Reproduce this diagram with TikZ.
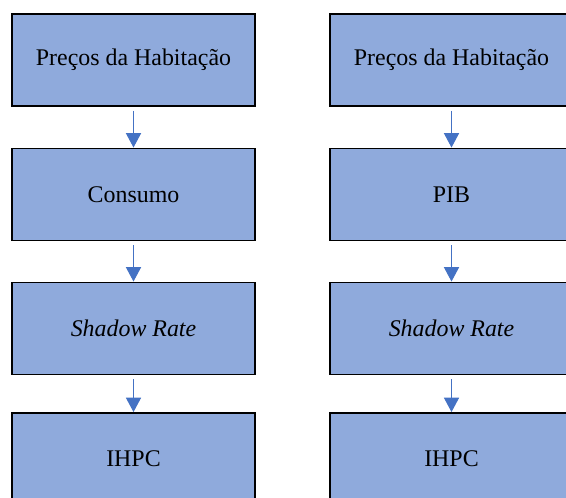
\documentclass[tikz,border=0pt]{standalone}
\usepackage{fontspec}
\setmainfont{Liberation Serif}
\usetikzlibrary{arrows.meta, positioning, calc}

\begin{document}
\begin{tikzpicture}[
    every node/.style={font=\fontsize{17}{20}\selectfont},
    stagebox/.style={rectangle, draw=black, line width=1.4pt, fill=boxblue,
      minimum width=\boxw, minimum height=\boxh, inner sep=0pt},
    flow/.style={-{Triangle[length=0.36cm, width=0.38cm]}, line width=0.7pt,
      draw=arrowblue, fill=arrowblue, shorten <=0.1cm},
  ]
  \def\boxw{6.075cm}
  \def\boxh{2.30cm}

  \definecolor{boxblue}{HTML}{8FAADC}
  \definecolor{arrowblue}{HTML}{4472C4}

  \useasboundingbox (0,0) rectangle (14.15,-12.45);

  \foreach \col/\x/\second in {l/3.3375/Consumo, r/11.2875/PIB}{
    \node[stagebox] (\col1) at (\x,-1.5) {Preços da Habitação};
    \node[stagebox] (\col2) at (\x,-4.8625) {\second};
    \node[stagebox] (\col3) at (\x,-8.2125) {\textit{Shadow Rate}};
    \node[stagebox] (\col4) at (\x,-11.475) {IHPC};
    \foreach \a/\b in {1/2, 2/3, 3/4}
      \draw[flow] (\col\a) -- (\col\b);
  }
\end{tikzpicture}
\end{document}
